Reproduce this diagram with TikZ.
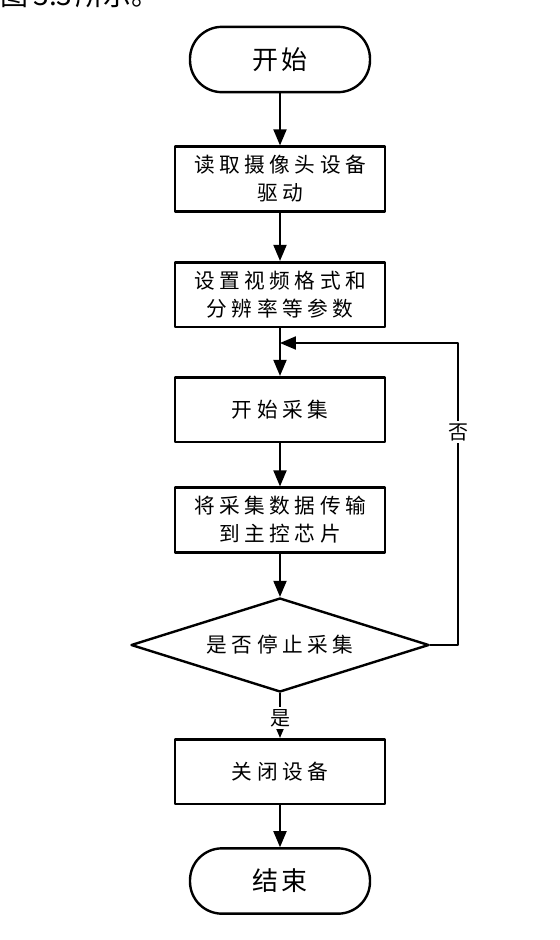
\documentclass[tikz,border=0pt]{standalone}
\usepackage{fontspec}
\setmainfont{Noto Sans CJK SC}
\newfontfamily\boxfont[LetterSpace=22]{Noto Sans CJK SC}
\newfontfamily\termfont[LetterSpace=15]{Noto Sans CJK SC}
\usetikzlibrary{arrows}
\usetikzlibrary{shapes.geometric}

\begin{document}
\begin{tikzpicture}[line cap=round,line join=round,>=triangle 45,x=0.75pt,y=-0.75pt]
\tikzset{
  procbox/.style={draw,line width=2pt,minimum width=157.5pt,minimum height=48.5pt,align=center,inner sep=0pt,font=\boxfont\fontsize{15.5}{21}\selectfont},
  termbox/.style={draw,line width=1.8pt,minimum width=135pt,minimum height=49pt,rounded corners=24pt,font=\termfont\fontsize{19.5}{24}\selectfont},
  decbox/.style={draw,diamond,line width=1.8pt,aspect=3.17,minimum width=223.5pt,minimum height=70.5pt,inner sep=0pt,font=\boxfont\fontsize{15.5}{21}\selectfont},
  flow/.style={->,line width=1.8pt},
  tag/.style={fill=white,inner sep=2pt,font=\fontsize{15}{18}\selectfont}
}
\useasboundingbox (0,0) rectangle (560,940);
\node [anchor=base west,inner sep=0pt,font=\fontsize{21}{24}\selectfont] (intro) at (-28,5) {如图\hspace{4pt}3.3\hspace{2pt}所示。};
\node [termbox] (start) at (280,59.5) {开始};
\node [procbox] (drv) at (280,179) {读取摄像头设备\\驱动};
\node [procbox] (fmt) at (280,294.5) {设置视频格式和\\分辨率等参数};
\node [procbox] (cap) at (280,409.5) {开始采集};
\node [procbox] (send) at (280,520) {将采集数据传输\\到主控芯片};
\node [decbox] (stop) at (280,645) {是否停止采集};
\node [procbox] (close) at (280,771.5) {关闭设备};
\node [termbox] (end) at (280,881) {结束};
\coordinate (join) at (280,343);
\coordinate (turn) at (458,645);
\draw [flow] (start) -- (drv);
\draw [flow] (drv) -- (fmt);
\draw [flow] (fmt) -- (cap);
\draw [flow] (cap) -- (send);
\draw [flow] (send) -- (stop);
\draw [flow] (stop.east) -- (turn) |- (join);
\node [tag] (no) at (458,432) {否};
\draw [->,line width=1pt] (stop) -- (close);
\node [tag] (yes) at (280,718) {是};
\draw [flow] (close) -- (end);
\end{tikzpicture}
\end{document}
